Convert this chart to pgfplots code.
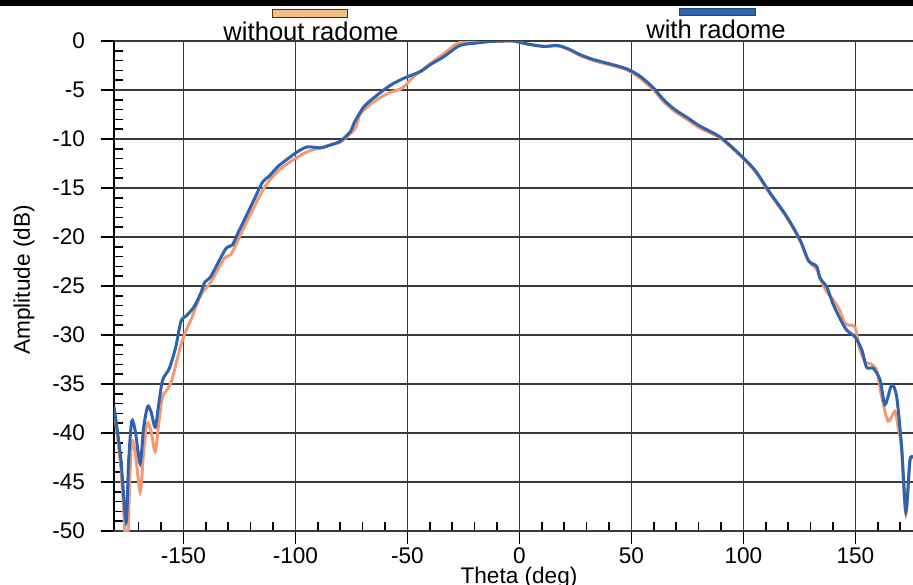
\documentclass[border=0pt]{standalone}
\usepackage{fontspec}
\setmainfont{Liberation Sans}
\usepackage{pgfplots}
\pgfplotsset{compat=1.18}

\definecolor{radblue}{HTML}{2F63AE}
\definecolor{radorange}{HTML}{F39A74}
\definecolor{legorange}{HTML}{F5BE86}
\definecolor{gridgray}{HTML}{3A3A3A}

% radiation pattern (theta in deg, amplitude in dB)
\pgfplotstableread{
theta amp
-181 -37.5
-178 -43.5
-176 -50.5
-175 -52
-174 -45
-173.1 -40.9
-171.5 -42
-169.3 -46
-167.8 -42
-166.3 -39
-164.5 -39.8
-162.6 -41.9
-161 -39
-159.3 -36.3
-155.6 -34.9
-151.1 -31
-148.2 -29.2
-146.7 -28.5
-142.2 -25.9
-137.8 -24.6
-131.8 -22.2
-128.8 -21.8
-125 -20
-121.4 -18.3
-114 -15
-108 -13.3
-102.1 -12.3
-94.7 -11.3
-88.7 -10.9
-84.3 -10.6
-79.8 -10.3
-75.3 -9.4
-73 -8.8
-70.9 -7.4
-65 -6.2
-58.3 -5.3
-52.3 -4.8
-47.1 -3.6
-39.7 -2.3
-33.8 -1.3
-27.8 -0.25
-21.8 0
-12 0
-7 0
-2.5 0
3.4 -0.3
10.8 -0.55
16.8 -0.5
21.3 -0.8
27.2 -1.5
33.1 -2.0
40.6 -2.45
48 -2.95
53.9 -3.8
59.9 -5.0
64 -6.1
68.8 -7.1
74.8 -8.0
80.7 -8.9
89.6 -9.9
98.5 -11.7
105.2 -13.3
111.9 -15.6
119.3 -18.0
125.3 -20.4
129 -22.4
132.7 -23.3
134.2 -24.2
137.2 -25.6
140.1 -26.4
143 -27.5
145.3 -28.8
147.5 -29
149.8 -29.2
152 -31.5
154.5 -32.8
156.5 -32.9
159.5 -33.6
161.7 -36.3
164.6 -38.8
167.6 -37.8
169 -39.3
170.6 -41.6
172.5 -48.3
174.3 -42.9
175.7 -42.6
}\withoutradome

\pgfplotstableread{
theta amp
-181 -37.3
-178 -42.5
-175.6 -49.1
-174.5 -43
-173.1 -38.8
-171.5 -39.8
-169.3 -43.1
-167.8 -39.5
-166 -37.3
-164.5 -37.8
-162.6 -39.4
-161 -37
-159.3 -34.6
-156.3 -33.4
-153.4 -31.2
-151.1 -28.6
-148.5 -28
-145.2 -27.1
-142.2 -25.7
-140.7 -24.7
-138 -24.1
-136.3 -23.4
-131.1 -21.2
-128.1 -20.8
-125.5 -19.5
-122.9 -18.3
-118.5 -16.2
-114.7 -14.4
-111.8 -13.8
-107.3 -12.7
-102.1 -11.8
-99.1 -11.3
-94.7 -10.8
-88.7 -10.9
-84.3 -10.6
-79.8 -10.2
-75.3 -9.2
-73.9 -8.4
-69.4 -6.7
-63.4 -5.5
-57.5 -4.5
-51.6 -3.8
-44.1 -3.1
-39.7 -2.4
-33.8 -1.6
-27.8 -0.6
-24.8 -0.35
-18.9 -0.2
-12.9 -0.05
-7 0
-2.5 0
3.4 -0.3
10.8 -0.55
16.8 -0.45
21.3 -0.75
27.2 -1.4
33.1 -1.9
40.6 -2.35
48 -2.85
53.9 -3.6
59.9 -4.8
64 -5.9
68.8 -6.9
74.8 -7.8
80.7 -8.7
89.6 -9.8
98.5 -11.6
105.2 -13.2
111.9 -15.5
119.3 -17.9
125.3 -20.3
129 -22.4
132.7 -23.0
134.2 -24.2
137.2 -25.1
140.1 -26.9
143.5 -28.5
146.1 -29.5
149.8 -30.2
152.8 -31.5
155 -33.3
158 -33.4
161 -34.6
163.2 -37.1
166.2 -35.1
168.4 -36.3
170.6 -41.4
172.5 -48
174.3 -42.8
175.7 -42.5
}\withradome

\begin{document}
\begin{tikzpicture}
\begin{axis}[
    scale only axis,
    width=399.5pt, height=245pt,
    xmin=-181, xmax=175.7,
    ymin=-50, ymax=0,
    axis x line=bottom, axis y line=left,
    axis line style={-, black, line width=1pt},
    xtick={-150,-100,...,150},
    ytick={-50,-45,...,0},
    minor xtick={-170,-160,...,170},
    minor ytick={-49,-48,...,-1},
    tick align=inside,
    major tick length=4pt, minor tick length=4.5pt,
    tick style={black, line width=0.8pt},
    extra x ticks={-150,-100,...,150}, extra x tick labels={},
    extra y ticks={-50,-45,...,0}, extra y tick labels={},
    extra tick style={tick align=outside, major tick length=6.5pt},
    grid=major,
    grid style={gridgray, line width=0.8pt},
    /pgf/number format/assume math mode=true,
    ticklabel style={font=\fontsize{11.3}{13}\selectfont},
    xticklabel style={yshift=-5pt},
    yticklabel style={xshift=-11pt},
  ]
  \addplot[radorange, line width=1.5pt, smooth, tension=0.45] table[x=theta, y=amp] {\withoutradome};
  \addplot[radblue, line width=1.5pt, smooth, tension=0.45] table[x=theta, y=amp] {\withradome};
\end{axis}

% axis titles
\node[rotate=90, font=\fontsize{11.3}{13}\selectfont] at (-45pt,125.5pt) {Amplitude (dB)};
\node[anchor=base, font=\fontsize{11.3}{13}\selectfont] at (202.5pt,-26.2pt) {Theta (deg)};

% legend swatches across the top
\draw[black!60!brown, line width=0.5pt, fill=legorange] (79pt,256.5pt) rectangle (116.5pt,260.5pt);
\node[anchor=base, font=\fontsize{12.8}{15}\selectfont] at (98.5pt,245pt) {without radome};
\draw[radblue!70!black, line width=0.5pt, fill=radblue] (282.5pt,257.5pt) rectangle (320.5pt,261.3pt);
\node[anchor=base, font=\fontsize{12.8}{15}\selectfont] at (301pt,246pt) {with radome};

% page edge from the scan
\fill[black] (-57pt,262.7pt) rectangle (399.5pt,265.5pt);

\pgfresetboundingbox
\useasboundingbox (-57pt,-26.5pt) rectangle (399.5pt,265.5pt);
\end{tikzpicture}
\end{document}
